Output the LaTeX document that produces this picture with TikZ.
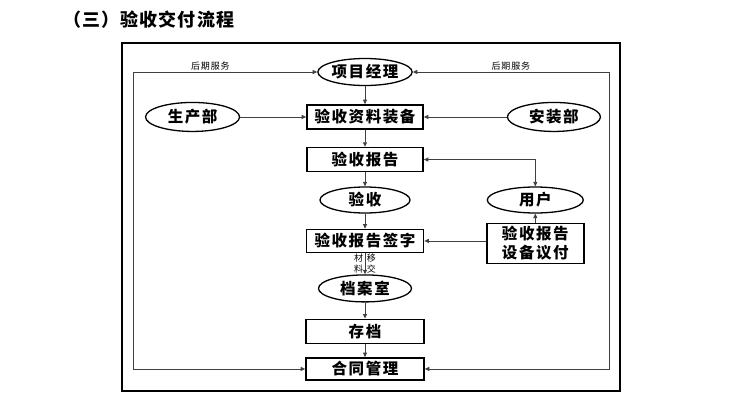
\documentclass[tikz,border=0pt]{standalone}
\usepackage{fontspec}
\newfontfamily\cjk[LetterSpace=10]{Noto Sans CJK SC}
\newfontfamily\cjktitle[LetterSpace=6]{Noto Sans CJK SC}
\usetikzlibrary{shapes.geometric, arrows.meta, positioning}
\tikzset{
  %% ---- boxes ----
  stepbox/.style  = {rectangle, draw=black, line width=1.6pt,
                     fill=white, minimum width=#1, minimum height=24pt,
                     inner sep=0pt, align=center,
                     font=\cjk\bfseries\fontsize{15.5}{19}\selectfont},
  stepbox/.default = 116pt,
  oval/.style     = {ellipse, draw=black, line width=1.3pt,
                     fill=white, minimum width=#1, minimum height=27pt,
                     inner sep=0pt, align=center,
                     font=\cjk\bfseries\fontsize{15.5}{19}\selectfont},
  oval/.default   = 92pt,
  %% ---- arrows ----
  arr/.style      = {-{Triangle[length=4.5pt,width=4pt]},
                     line width=0.8pt, color=black!75},
  dblarr/.style   = {{Triangle[length=4.5pt,width=4pt]}-{Triangle[length=4.5pt,width=4pt]},
                     line width=0.8pt, color=black!75},
  lbl/.style      = {font=\cjk\fontsize{9}{10.5}\selectfont,
                     inner sep=1.5pt, text=black, align=center},
}

\begin{document}
\begin{tikzpicture}[x=1pt, y=1pt]
\useasboundingbox[fill=white] (0,0) rectangle (745,-410);
%% title and frame
\node[anchor=west, font=\cjktitle\bfseries\fontsize{18}{20}\selectfont]
  (title) at (60,-20) {（三）验收交付流程};
\draw[line width=1.6pt, fill=white] (122,-43) rectangle (620,-391);
%% main column
\node[oval]                               (pm)       at (365,-72) {项目经理};
\node[stepbox, below=18pt of pm]          (prep)     {验收资料装备};
\node[oval=94pt, minimum height=29pt, left=66pt of prep]  (prod) {生产部};
\node[oval=93pt, minimum height=29pt, right=83pt of prep] (inst) {安装部};
\node[stepbox, below=17pt of prep]        (report)   {验收报告};
\node[oval=90pt, minimum height=26pt, below=14pt of report] (check) {验收};
\node[stepbox=117pt, minimum height=23pt, below=15pt of check] (sign) {验收报告签字};
\node[oval=93pt, below=21pt of sign]      (archive)  {档案室};
\node[stepbox=118pt, below=16pt of archive] (store)  {存档};
\node[stepbox=118pt, minimum height=22pt, below=13pt of store] (contract) {合同管理};
%% customer side
\node[oval=96pt, minimum height=26pt, right=76pt of check] (user) {用户};
\node[stepbox=97pt, minimum height=40pt, below=9pt of user] (pay) {验收报告\\设备议付};
%% loop corners
\coordinate (loopL) at (133,-72);
\coordinate (loopR) at (609,-72);
%% connectors
\draw[arr] (pm)      -- (prep);
\draw[arr] (prod)    -- (prep);
\draw[arr] (inst)    -- (prep);
\draw[arr] (prep)    -- (report);
\draw[arr] (report)  -- (check);
\draw[arr] (check)   -- (sign);
\draw[arr] (sign)    -- node[lbl, left]{材\\料} node[lbl, right]{移\\交} (archive);
\draw[arr] (archive) -- (store);
\draw[arr] (store)   -- (contract);
\draw[dblarr] (report.east) -| (user.north);
\draw[arr] (pay)     -- (user);
\draw[arr] (pay.west |- sign.east) -- (sign.east);
\draw[dblarr] (contract.west) -| (loopL) -- node[lbl, above, pos=0.42]{后期服务} (pm.west);
\draw[dblarr] (contract.east) -| (loopR) -- node[lbl, above]{后期服务} (pm.east);
\end{tikzpicture}
\end{document}
